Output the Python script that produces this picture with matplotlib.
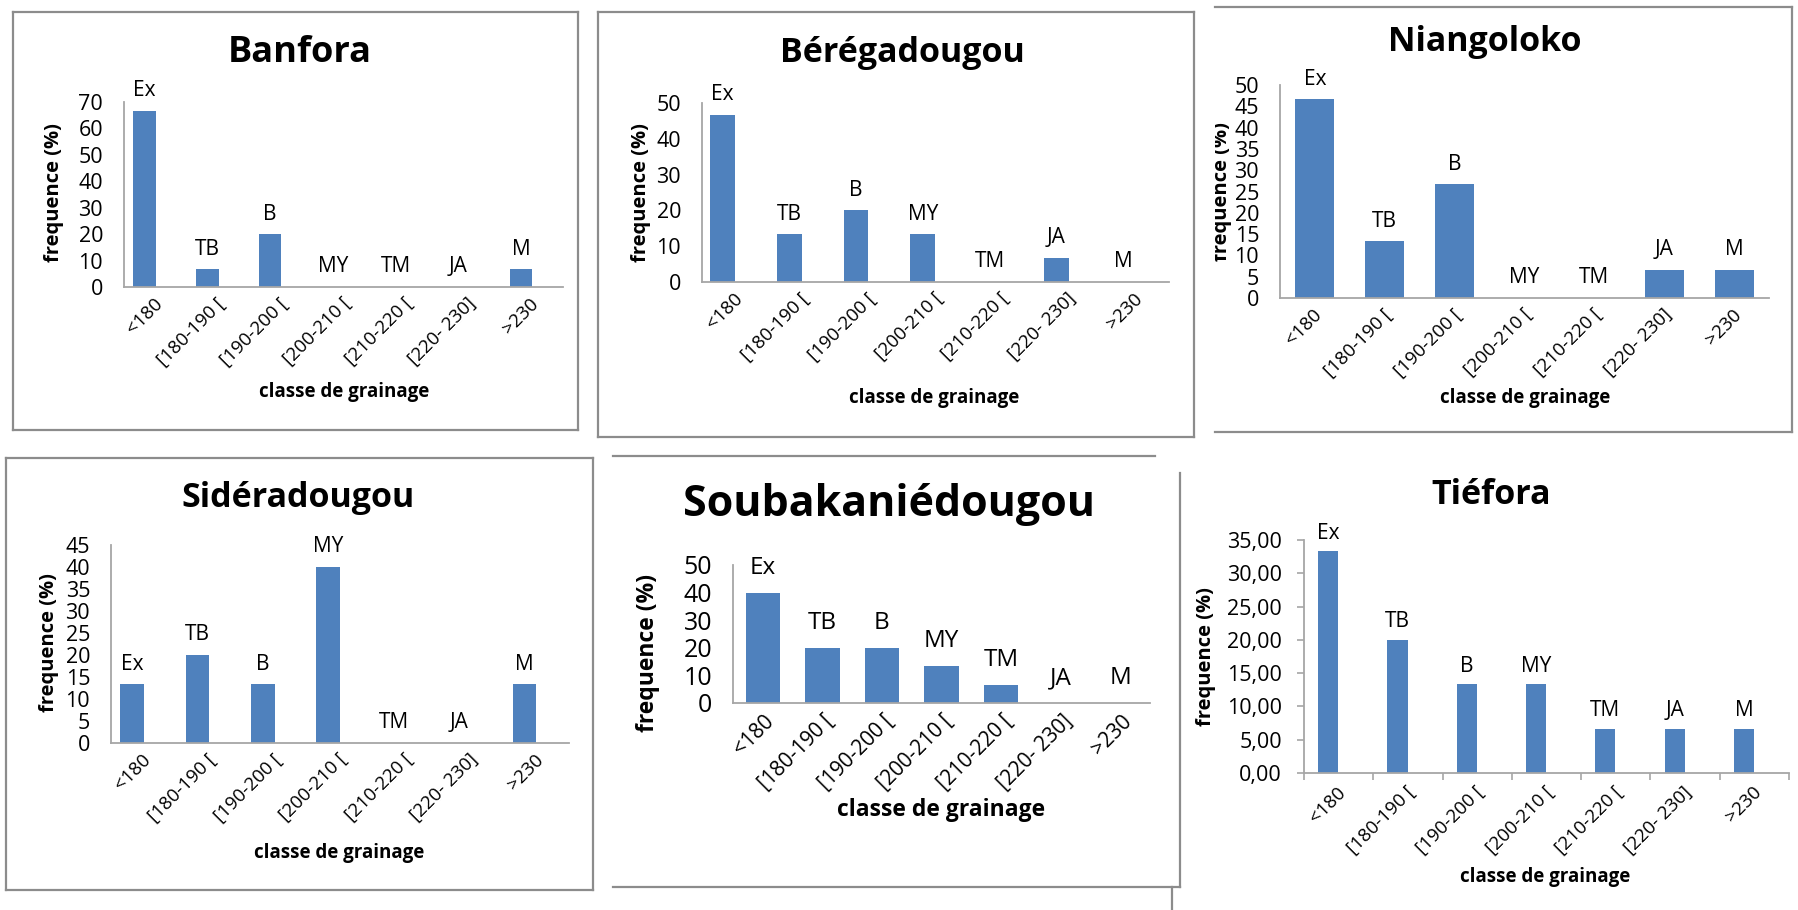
import matplotlib
matplotlib.use("Agg")
import matplotlib.pyplot as plt
from matplotlib.lines import Line2D
from matplotlib.patches import Rectangle

W, H = 1799, 910
plt.rcParams['font.family'] = ['Open Sans', 'DejaVu Sans']

categories = ['<180', '[180-190 [', '[190-200 [', '[200-210 [', '[210-220 [', '[220- 230]', '>230']
grades = ['Ex', 'TB', 'B', 'MY', 'TM', 'JA', 'M']

banfora = [66.67, 6.67, 20.0, 0, 0, 0, 6.67]
beregadougou = [46.67, 13.33, 20.0, 13.33, 0, 6.67, 0]
niangoloko = [46.67, 13.33, 26.67, 0, 0, 6.67, 6.67]
sideradougou = [13.33, 20.0, 13.33, 40.0, 0, 0, 13.33]
soubakaniedougou = [40.0, 20.0, 20.0, 13.33, 6.67, 0, 0]
tiefora = [33.33, 20.0, 13.33, 13.33, 6.67, 6.67, 6.67]

BLUE = '#4F81BD'
AXIS_GREY = '#A6A6A6'
BOX_GREY = '#8C8C8C'

fig = plt.figure(figsize=(W / 100, H / 100), dpi=100)


def fx(x):
    return x / W


def fy(y):
    return 1 - y / H


def line(xs, ys, color=BOX_GREY, lw=1.6):
    fig.add_artist(Line2D([fx(v) for v in xs], [fy(v) for v in ys], color=color, lw=lw))


def box(x1, y1, x2, y2, sides='ltrb'):
    if 't' in sides:
        line([x1, x2], [y1, y1])
    if 'b' in sides:
        line([x1, x2], [y2, y2])
    if 'l' in sides:
        line([x1, x1], [y1, y2])
    if 'r' in sides:
        line([x2, x2], [y1, y2])


def draw_panel(values, title, axes_px, ymax, ystep, title_xy, ylab_xy, xlab_xy,
               bar_w, shift=0.0, title_fs=24.5, fs=15.5, xt_fs=13.5, ylab_fs=14.5,
               xlab_fs=13.5, lab_off=14.5, xt_off=(3, -10), decimals=False, ticks=False):
    l, r, top, zero = axes_px
    ax = fig.add_axes([fx(l), fy(zero), (r - l) / W, (zero - top) / H])
    ax.patch.set_alpha(0)
    x = [i + shift for i in range(len(categories))]
    ax.bar(x, values, width=bar_w, color=BLUE, zorder=2)
    ax.set_xlim(-0.5, len(categories) - 0.5)
    ax.set_ylim(0, ymax)

    yt = list(range(0, ymax + 1, ystep))
    ax.set_yticks(yt)
    if decimals:
        ax.set_yticklabels([f'{v:.2f}'.replace('.', ',') for v in yt])
    ax.tick_params(axis='y', labelsize=fs, length=5 if ticks else 0,
                   pad=11 if ticks else 15, color=AXIS_GREY, width=1.2)
    ax.set_xticks([])
    if ticks:
        ax.set_xticks([i - 0.5 for i in range(len(categories) + 1)], minor=True)
        ax.tick_params(axis='x', which='minor', length=5, color=AXIS_GREY, width=1.2)

    for s in ['top', 'right']:
        ax.spines[s].set_visible(False)
    for s in ['left', 'bottom']:
        ax.spines[s].set_color(AXIS_GREY)
        ax.spines[s].set_linewidth(1.3)

    # grade letters above each bar
    for xi, v, g in zip(x, values, grades):
        ax.annotate(g, (xi, v), xytext=(0, lab_off), textcoords='offset points',
                    ha='center', va='center', fontsize=fs - 0.5)

    # rotated class labels under the axis
    for i, c in enumerate(categories):
        ax.annotate(c, (i, 0), xytext=xt_off, textcoords='offset points',
                    ha='right', va='center', rotation=45, rotation_mode='anchor',
                    fontsize=xt_fs, annotation_clip=False)

    fig.text(fx(title_xy[0]), fy(title_xy[1]), title, ha='center', va='center',
             fontsize=title_fs, fontweight='bold')
    ylab = fig.text(fx(ylab_xy[0]), fy(ylab_xy[1]), 'frequence (%)', ha='center', va='center',
                    rotation=90, fontsize=ylab_fs, fontweight='bold')
    fig.text(fx(xlab_xy[0]), fy(xlab_xy[1]), 'classe de grainage', ha='center', va='center',
             fontsize=xlab_fs, fontweight='bold')
    return ax, ylab


# top row
draw_panel(banfora, 'Banfora', (124, 563, 102, 287), 70, 10,
           (300, 53), (54, 193), (344, 392), 0.36, shift=-0.17, title_fs=26)
box(13, 12, 578, 430)

draw_panel(beregadougou, 'Bérégadougou', (702, 1169, 103, 282), 50, 10,
           (902, 53), (641, 193), (934, 398), 0.37, shift=-0.19)
box(598, 12, 1194, 437)

_, niang_ylab = draw_panel(niangoloko, 'Niangoloko', (1280, 1769, 85, 298), 50, 5,
                           (1485, 42), (1222, 192), (1525, 398), 0.56)
# the frame of this chart starts right of its axis title, which is cut there
niang_ylab.set_clip_path(Rectangle((fx(1215), 0), 1, 1, transform=fig.transFigure))
box(1215, 7, 1792, 432, sides='trb')

# bottom row
draw_panel(sideradougou, 'Sidéradougou', (111, 569, 545, 743), 45, 5,
           (298, 498), (49, 643), (339, 853), 0.36, shift=-0.18)
box(6, 458, 593, 890)

draw_panel(soubakaniedougou, 'Soubakaniédougou', (733, 1150, 565, 703), 50, 10,
           (889, 505), (648, 653), (941, 810), 0.58, title_fs=31, fs=18, xt_fs=15,
           ylab_fs=16.5, xlab_fs=16.5, lab_off=18, xt_off=(6, -11))
line([613, 1155], [456, 456])
line([613, 1180], [887, 887])
line([1180, 1180], [473, 887])
line([1172, 1172], [887, 910])

draw_panel(tiefora, 'Tiéfora', (1304, 1789, 540, 773), 35, 5,
           (1491, 495), (1206, 657), (1545, 877), 0.29, shift=-0.15, lab_off=13,
           xt_off=(3, -12), decimals=True, ticks=True)

fig.savefig('out.png', dpi=100)
